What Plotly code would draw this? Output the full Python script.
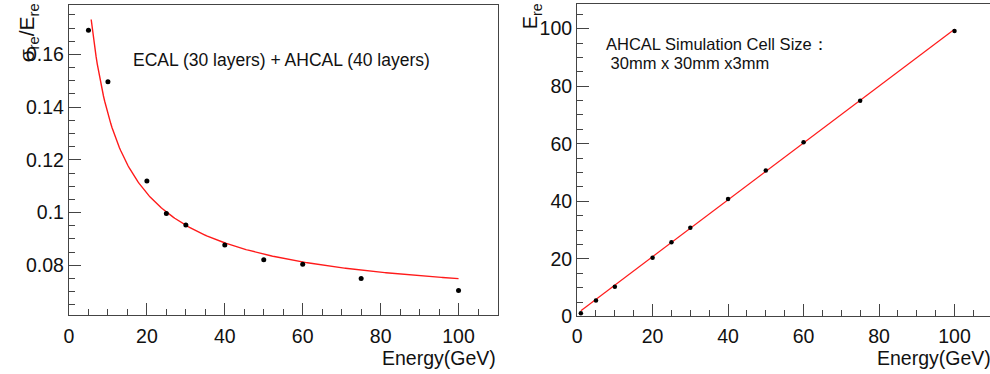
import numpy as np
import plotly.graph_objects as go

# ---------------- data ----------------
# left panel: energy resolution
energy_res = [5, 10, 20, 25, 30, 40, 50, 60, 75, 100]
sigma_over_e = [0.1692, 0.1496, 0.1120, 0.0997, 0.0953, 0.0877, 0.0821, 0.0804, 0.0750, 0.0705]
# fit: sigma/E = sqrt(a^2/E + b^2)
res_fit_params = [0.384, 0.0644]
res_fit_range = [5.7, 100]

# right panel: linearity
energy_lin = [1, 5, 10, 20, 25, 30, 40, 50, 60, 75, 100]
e_reco = [1.1, 5.5, 10.3, 20.4, 25.8, 30.8, 40.8, 50.7, 60.5, 74.9, 99.2]
# fit: E_re = p0 + p1*E
lin_fit_params = [1.0, 0.988]
lin_fit_range = [1, 100]

x_ticks = [0, 20, 40, 60, 80, 100]
y_ticks_left = [0.08, 0.1, 0.12, 0.14, 0.16]
y_tick_text_left = ["0.08", "0.1", "0.12", "0.14", "0.16"]
y_ticks_right = [0, 20, 40, 60, 80, 100]

# ---------------- figure ----------------
FONT = "Liberation Sans, Arial, Helvetica, sans-serif"
AX = "#444444"

fig = go.Figure()

ef = np.linspace(res_fit_range[0], res_fit_range[1], 300)
a, b = res_fit_params
fig.add_trace(go.Scatter(x=ef, y=np.sqrt(a**2 / ef + b**2), mode="lines",
                         line=dict(color="#ff1a1a", width=1.4),
                         xaxis="x", yaxis="y", showlegend=False, hoverinfo="skip"))
fig.add_trace(go.Scatter(x=energy_res, y=sigma_over_e, mode="markers",
                         marker=dict(color="black", size=5),
                         xaxis="x", yaxis="y", showlegend=False))

el = np.array(lin_fit_range, dtype=float)
p0, p1 = lin_fit_params
fig.add_trace(go.Scatter(x=el, y=p0 + p1 * el, mode="lines",
                         line=dict(color="#ff1a1a", width=1.2),
                         xaxis="x2", yaxis="y2", showlegend=False, hoverinfo="skip"))
fig.add_trace(go.Scatter(x=energy_lin, y=e_reco, mode="markers",
                         marker=dict(color="black", size=4.5),
                         xaxis="x2", yaxis="y2", showlegend=False))

W, H = 990, 374


def px_x(p):
    return p / W


def px_y(p):
    return (H - p) / H


base = dict(showgrid=False, zeroline=False, showline=True, linecolor=AX, linewidth=1.2,
            ticks="inside", tickcolor=AX, ticklen=12, tickwidth=1,
            tickfont=dict(family=FONT, size=19.5, color="#111"))


def minor(dt):
    return dict(ticks="inside", ticklen=6, tickcolor=AX, tickwidth=1, dtick=dt, tick0=0)


fig.update_layout(
    width=W, height=H, margin=dict(l=0, r=0, t=0, b=0),
    paper_bgcolor="white", plot_bgcolor="white",
    xaxis=dict(domain=[px_x(64.3), px_x(495)], range=[0, 110], anchor="y",
               tickvals=x_ticks, mirror=True, minor=minor(5), ticklabelstandoff=3, **base),
    yaxis=dict(domain=[px_y(325), px_y(5)], range=[0.0610, 0.1788], anchor="x",
               tickvals=y_ticks_left, ticktext=y_tick_text_left, mirror=True,
               minor=minor(0.005), **base),
    xaxis2=dict(domain=[px_x(575), 1.0], range=[0, 109.4], anchor="y2",
                tickvals=x_ticks, mirror=True, minor=minor(5), ticklabelstandoff=2, **base),
    yaxis2=dict(domain=[px_y(326), px_y(4)], range=[0, 108.6], anchor="x2",
                tickvals=y_ticks_right, mirror=False, minor=minor(5), **base),
)

ann_font = dict(family=FONT, size=17.5, color="#111")
fig.add_annotation(xref="paper", yref="paper", x=px_x(127), y=px_y(62),
                   xanchor="left", yanchor="middle", showarrow=False,
                   text="ECAL (30 layers) + AHCAL (40 layers)", font=ann_font)
fig.add_annotation(xref="paper", yref="paper", x=px_x(602), y=px_y(45),
                   xanchor="left", yanchor="middle", showarrow=False,
                   text="AHCAL Simulation Cell Size\uff1a", font=dict(family=FONT, size=16.5, color="#111"))
fig.add_annotation(xref="paper", yref="paper", x=px_x(602), y=px_y(65),
                   xanchor="left", yanchor="middle", showarrow=False,
                   text=" 30mm x 30mm x3mm", font=dict(family=FONT, size=16.5, color="#111"))

# axis titles
title_font = dict(family=FONT, size=19.5, color="#111")
fig.add_annotation(xref="paper", yref="paper", x=px_x(496), y=px_y(355),
                   xanchor="right", yanchor="top", showarrow=False,
                   text="Energy(GeV)", font=title_font)
fig.add_annotation(xref="paper", yref="paper", x=px_x(993), y=px_y(355),
                   xanchor="right", yanchor="top", showarrow=False,
                   text="Energy(GeV)", font=title_font)
fig.add_annotation(xref="paper", yref="paper", x=px_x(24), y=px_y(1),
                   xanchor="center", yanchor="top", showarrow=False, textangle=-90,
                   text="\u03c3<sub>re</sub>/E<sub>re</sub>", font=dict(family=FONT, size=21, color="#111"))
fig.add_annotation(xref="paper", yref="paper", x=px_x(530), y=px_y(1),
                   xanchor="center", yanchor="top", showarrow=False, textangle=-90,
                   text="E<sub>re</sub>", font=dict(family=FONT, size=20, color="#111"))

fig.write_html("out.html", config={"displayModeBar": False},
               post_script="document.body.style.margin='0';document.body.style.overflow='hidden';")
